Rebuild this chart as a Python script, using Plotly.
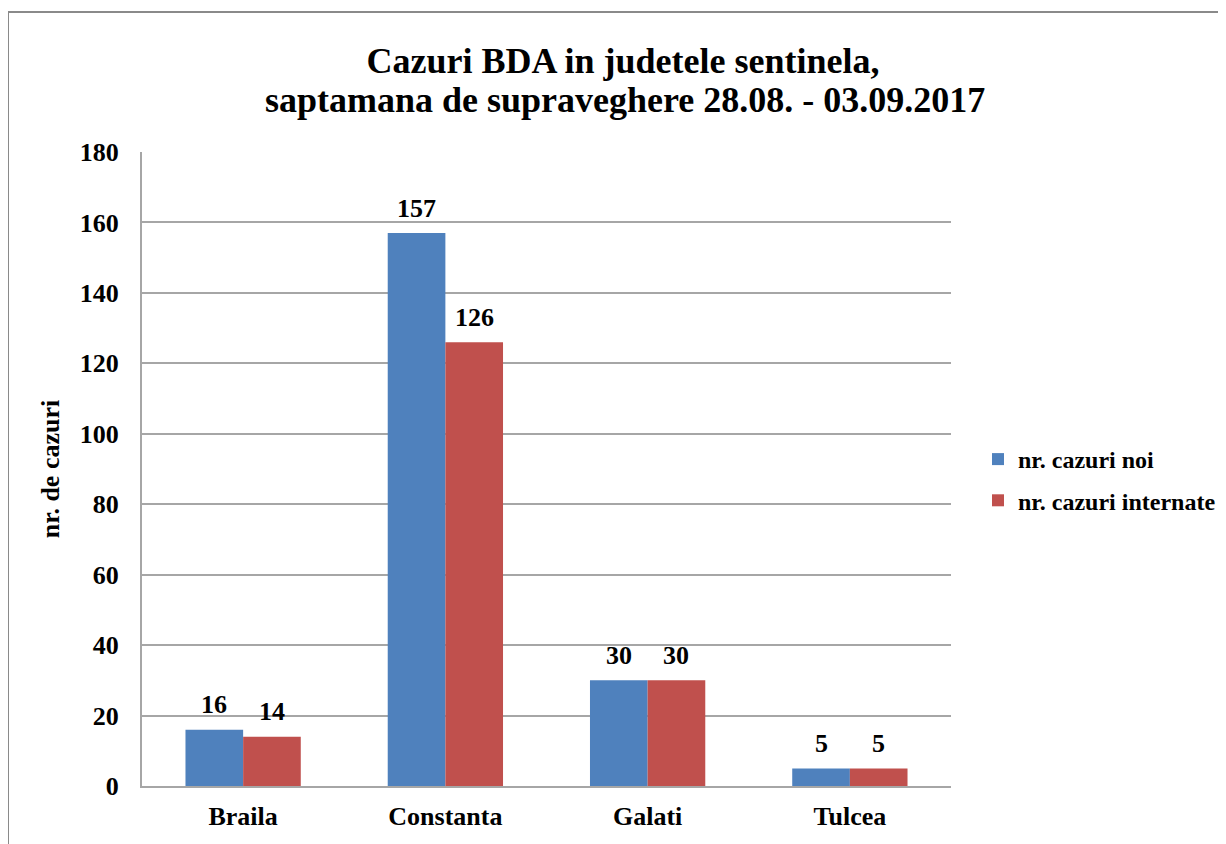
import plotly.graph_objects as go

judete = ["Braila", "Constanta", "Galati", "Tulcea"]
cazuri_noi = [16, 157, 30, 5]
cazuri_internate = [14, 126, 30, 5]

BLUE = "#4F81BD"
RED = "#C0504D"
GRID = "#a6a6a6"
FONT = "Liberation Serif"

# page body has an 8px margin, so the figure is shifted by that much
L, R, T, B = 134, 283, 144, 66
PLOT_W = 1226 - L - R
PLOT_H = 844 - T - B
BARGAP = 0.43


def paper_x(px):
    return (px - L) / PLOT_W


def paper_y(py):
    return (844 - B - py) / PLOT_H


def bold(size):
    return {"family": FONT, "size": size, "color": "black", "weight": "bold"}


fig = go.Figure()
fig.add_trace(
    go.Bar(
        x=judete,
        y=cazuri_noi,
        name="nr. cazuri noi",
        legendgroup="noi",
        marker={"color": BLUE, "line": {"width": 0}},
    )
)
fig.add_trace(
    go.Bar(
        x=judete,
        y=cazuri_internate,
        name="nr. cazuri internate",
        legendgroup="internate",
        marker={"color": RED, "line": {"width": 0}},
    )
)

# value labels sit a bit higher above the bars than plotly's outside text
bar_w = PLOT_W / len(judete) * (1 - BARGAP) / 2
for values, shift in [(cazuri_noi, -bar_w / 2), (cazuri_internate, bar_w / 2)]:
    for name, v in zip(judete, values):
        fig.add_annotation(
            x=name,
            y=v,
            text=str(v),
            showarrow=False,
            xshift=shift,
            yshift=25,
            yanchor="middle",
            font=bold(26),
        )

# second title line as its own annotation to keep the tight line spacing
fig.add_annotation(
    x=paper_x(617),
    y=paper_y(92),
    xref="paper",
    yref="paper",
    text="saptamana de supraveghere 28.08. - 03.09.2017",
    showarrow=False,
    xanchor="center",
    yanchor="middle",
    font=bold(36),
)

# outer chart frame (Excel style), running off the page at right/bottom
fig.add_shape(
    type="rect",
    xref="paper",
    yref="paper",
    x0=paper_x(0),
    x1=paper_x(1260),
    y0=paper_y(880),
    y1=paper_y(4),
    line={"color": "#8a8a8a", "width": 2},
    fillcolor="rgba(0,0,0,0)",
    layer="below",
)

fig.update_layout(
    width=1226,
    height=844,
    margin={"l": L, "r": R, "t": T, "b": B, "autoexpand": False},
    paper_bgcolor="white",
    plot_bgcolor="white",
    font=bold(26),
    title={
        "text": "Cazuri BDA in judetele sentinela,",
        "x": 615 / 1226,
        "xanchor": "center",
        "y": 1 - 52 / 844,
        "yanchor": "middle",
        "font": bold(36),
    },
    barmode="group",
    bargap=BARGAP,
    bargroupgap=0,
    showlegend=True,
    legend={
        "x": paper_x(970),
        "xanchor": "left",
        "y": paper_y(472),
        "yanchor": "middle",
        "font": bold(24),
        "tracegroupgap": 7,
        "traceorder": "grouped",
        "bgcolor": "rgba(0,0,0,0)",
    },
)
fig.update_xaxes(
    showline=True,
    linecolor=GRID,
    linewidth=2,
    showgrid=False,
    ticks="",
    automargin=False,
    ticklabelstandoff=6,
    tickfont=bold(26),
)
fig.update_yaxes(
    range=[0, 180],
    dtick=20,
    showline=True,
    linecolor=GRID,
    linewidth=2,
    showgrid=True,
    gridcolor=GRID,
    gridwidth=1.5,
    zeroline=False,
    ticks="",
    automargin=False,
    ticklabelstandoff=16,
    tickfont=bold(26),
    title={"text": "nr. de cazuri", "standoff": 13, "font": bold(26)},
)

fig.write_html("out.html")
